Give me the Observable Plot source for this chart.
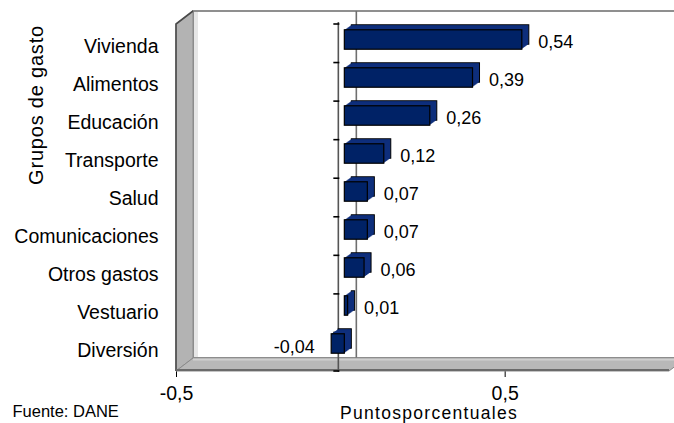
<!DOCTYPE html>
<html>
<head>
<meta charset="utf-8">
<script src="https://cdn.jsdelivr.net/npm/d3@7"></script>
<script src="https://cdn.jsdelivr.net/npm/@observablehq/plot@0.6"></script>
<style>
  body { margin: 0; background: #fff; }
  #chart { width: 674px; height: 423px; }
</style>
</head>
<body>
<div id="chart"></div>
<script>
// ---- data ----
const categories = ["Vivienda", "Alimentos", "Educación", "Transporte", "Salud", "Comunicaciones", "Otros gastos", "Vestuario", "Diversión"];
const values = [0.54, 0.39, 0.26, 0.12, 0.07, 0.07, 0.06, 0.01, -0.04];
const xTicks = [-0.5, 0.5];
const xDomain = [-0.5, 1.0];
const xLabel = "Puntosporcentuales";
const yLabel = "Grupos de gasto";
const source = "Fuente: DANE";

const data = categories.map((c, i) => ({cat: c, v: values[i]}));
const fmt = v => v.toFixed(2).replace(".", ",");

// ---- layout ----
const W = 674, H = 423, mL = 176, mR = 5, mT = 24, mB = 52;
const DX = 17, DY = -13;           // wall depth (oblique 3D)
const BDX = 4, BDY = -6.5;         // bar front-face offset
const BDEPTH = 7, BDEPTHY = -5;    // bar extrusion
const bw = (H - mT - mB) / categories.length;
const inset = (bw - 20) / 2;

function walls(index, scales, values, dims) {
  const x0 = dims.marginLeft, x1 = dims.width - dims.marginRight;
  const y0 = dims.marginTop, y1 = dims.height - dims.marginBottom;
  const z = scales.x(0);
  const g = d3.create("svg:g");
  // back wall
  g.append("rect").attr("x", x0 + DX).attr("y", y0 + DY)
    .attr("width", x1 - x0).attr("height", y1 - y0)
    .attr("fill", "#fff").attr("stroke", "#8f8f8f").attr("stroke-width", 2);
  // soft shadow next to side wall
  g.append("rect").attr("x", x0 + DX + 1).attr("y", y0 + DY + 1)
    .attr("width", 4).attr("height", y1 - y0 - 2).attr("fill", "#e6e6e6");
  // back zero line
  g.append("line").attr("x1", z + DX - 1).attr("x2", z + DX - 1)
    .attr("y1", y0 + DY).attr("y2", y1 + DY)
    .attr("stroke", "#6f6f6f").attr("stroke-width", 1.6);
  // side wall
  g.append("polygon")
    .attr("points", [[x0, y0], [x0 + DX, y0 + DY], [x0 + DX, y1 + DY], [x0, y1]].join(" "))
    .attr("fill", "#b3b3b3").attr("stroke", "#8a8a8a").attr("stroke-width", 1);
  g.append("polyline")
    .attr("points", [[x0, y1], [x0, y0], [x0 + DX, y0 + DY]].join(" "))
    .attr("fill", "none").attr("stroke", "#4a4a4a").attr("stroke-width", 1.6);
  // floor
  g.append("polygon")
    .attr("points", [[x0, y1], [x0 + DX, y1 + DY], [x1 + DX, y1 + DY], [x1, y1]].join(" "))
    .attr("fill", "#b8b8b8").attr("stroke", "#8a8a8a").attr("stroke-width", 1);
  g.append("line").attr("x1", x0 + DX).attr("x2", x1 + DX)
    .attr("y1", y1 + DY + 1.5).attr("y2", y1 + DY + 1.5)
    .attr("stroke", "#cfcfcf").attr("stroke-width", 2);
  g.append("line").attr("x1", x0).attr("x2", x1)
    .attr("y1", y1 - 1).attr("y2", y1 - 1)
    .attr("stroke", "#6a6a6a").attr("stroke-width", 2);
  // front category axis line
  g.append("line").attr("x1", z - 2).attr("x2", z - 2)
    .attr("y1", y0 - 2).attr("y2", y1 + 1)
    .attr("stroke", "#555").attr("stroke-width", 1.6);
  // category ticks at band boundaries
  for (let i = 0; i <= categories.length; i++) {
    const yy = y0 + i * (y1 - y0) / categories.length;
    g.append("line").attr("x1", z - 7).attr("x2", z - 1)
      .attr("y1", yy).attr("y2", yy)
      .attr("stroke", "#000").attr("stroke-width", 1.6);
  }
  return g.node();
}

const depthSteps = d3.range(BDEPTH, 0, -1);

const chart = Plot.plot({
  width: W,
  height: H,
  marginLeft: mL,
  marginRight: mR,
  marginTop: mT,
  marginBottom: mB,
  style: {fontFamily: "'Liberation Sans', Arial, sans-serif", fontSize: "19.5px", color: "#000", background: "#fff"},
  x: {domain: xDomain, ticks: xTicks, tickFormat: d => String(d).replace(".", ","), tickSize: 6, tickPadding: 9, label: null},
  y: {domain: categories, padding: 0, tickSize: 0, tickPadding: 18, label: null},
  marks: [
    walls,
    ...depthSteps.map(k => Plot.barX(data, {
      x: "v", y: "cat", insetTop: inset, insetBottom: inset,
      dx: BDX + k, dy: BDY + k * BDEPTHY / BDEPTH,
      fill: "#0f2f7c",
      stroke: k === BDEPTH ? "#000" : null, strokeWidth: 1
    })),
    Plot.barX(data, {
      x: "v", y: "cat", insetTop: inset, insetBottom: inset,
      dx: BDX, dy: BDY, fill: "#002266", stroke: "#000", strokeWidth: 1.2
    }),
    Plot.text(data.filter(d => d.v >= 0), {
      x: "v", y: "cat", text: d => fmt(d.v), textAnchor: "start", dx: 20, dy: -4, fontSize: 18, fill: "#000"
    }),
    Plot.text(data.filter(d => d.v < 0), {
      x: "v", y: "cat", text: d => fmt(d.v), textAnchor: "end", dx: -13, dy: -3, fontSize: 18, fill: "#000"
    }),
    Plot.text([yLabel], {frameAnchor: "left", rotate: -90, dx: -140, dy: -93, fontSize: 20, textAnchor: "middle", fill: "#000"}),
    Plot.text([xLabel], {frameAnchor: "bottom", dx: 6, dy: 47, fontSize: 17.5, fill: "#000"}),
    Plot.text([source], {frameAnchor: "bottom-left", dx: -164, dy: 45, textAnchor: "start", fontSize: 16.5, fill: "#000"})
  ]
});

const svgSel = d3.select(chart);
svgSel.selectAll("text").filter(function() { return this.textContent === xLabel; }).style("letter-spacing", "1.3px");
svgSel.selectAll("text").filter(function() { return this.textContent === yLabel; }).style("letter-spacing", "0.8px");

document.getElementById("chart").appendChild(chart);
</script>
</body>
</html>
